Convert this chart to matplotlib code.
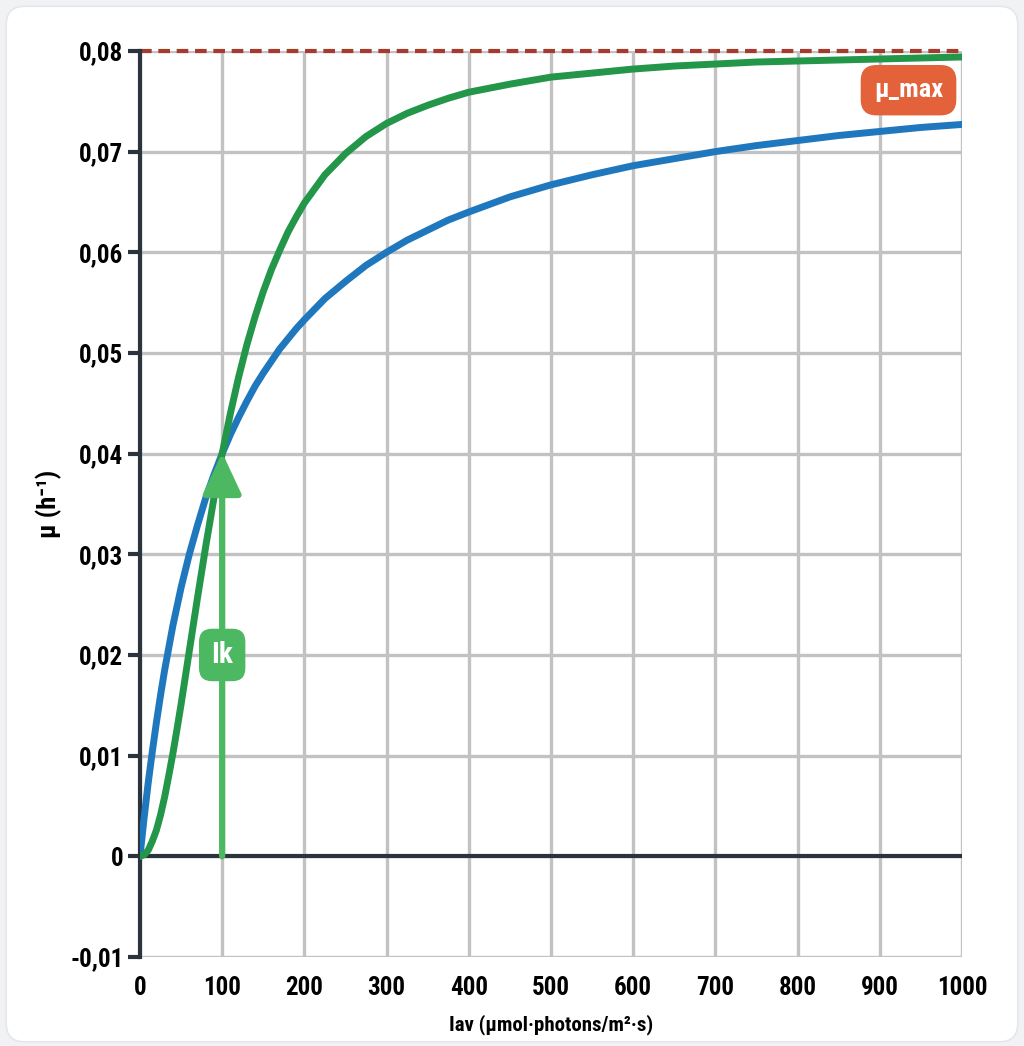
import matplotlib
matplotlib.use("Agg")
import matplotlib.pyplot as plt
from matplotlib.patches import FancyBboxPatch
from matplotlib.ticker import FuncFormatter

# values
light_x = [0, 5, 10, 15, 20, 25, 30, 35, 40, 45, 50, 60, 70, 80, 90, 100,
           110, 120, 130, 140, 150, 160, 170, 180, 190, 200, 225, 250, 275, 300,
           325, 350, 375, 400, 450, 500, 550, 600, 650, 700, 750, 800, 850, 900,
           950, 1000]
mu_blue = [0.0, 0.0038, 0.0073, 0.0104, 0.0133, 0.0160, 0.0185, 0.0207, 0.0229,
           0.0248, 0.0267, 0.0300, 0.0329, 0.0356, 0.0379, 0.0400,
           0.0419, 0.0436, 0.0452, 0.0467, 0.0480, 0.0492, 0.0504, 0.0514, 0.0524,
           0.0533, 0.0554, 0.0571, 0.0587, 0.0600,
           0.0612, 0.0622, 0.0632, 0.0640, 0.0655, 0.0667, 0.0677, 0.0686, 0.0693,
           0.0700, 0.0706, 0.0711, 0.0716, 0.0720, 0.0724, 0.0727]
mu_green = [0.0, 0.00015, 0.0006, 0.0015, 0.0026, 0.0041, 0.0059, 0.0080, 0.0102,
            0.0126, 0.0151, 0.0204, 0.0257, 0.0308, 0.0356, 0.0400,
            0.0440, 0.0476, 0.0508, 0.0536, 0.0561, 0.0583, 0.0602, 0.0620, 0.0635,
            0.0649, 0.0677, 0.0698, 0.0715, 0.0728,
            0.0738, 0.0746, 0.0753, 0.0759, 0.0767, 0.0774, 0.0778, 0.0782, 0.0785,
            0.0787, 0.0789, 0.0790, 0.0791, 0.0792, 0.0793, 0.0794]
mu_max = 0.08
ik = 100
x_ticks = list(range(0, 1001, 100))
y_ticks = [-0.01, 0.0, 0.01, 0.02, 0.03, 0.04, 0.05, 0.06, 0.07, 0.08]

FONT = ["Roboto Condensed", "Liberation Sans Narrow", "Liberation Sans", "DejaVu Sans"]
plt.rcParams["font.family"] = FONT

fig = plt.figure(figsize=(10.24, 10.46), dpi=100)
fig.patch.set_facecolor("#f1f2f4")
card = FancyBboxPatch((0.006, 0.004), 0.988, 0.99, boxstyle="round,pad=0,rounding_size=0.018",
                      transform=fig.transFigure, facecolor="white", edgecolor="#e6e7ea",
                      linewidth=1.2, zorder=-10)
fig.patches.append(card)

ax = fig.add_axes([0.1367, 0.0851, 0.8027, 0.8662])
ax.set_facecolor("none")
ax.set_xlim(0, 1000)
ax.set_ylim(-0.01, 0.08)

ax.set_xticks(x_ticks)
ax.set_yticks(y_ticks)
ax.grid(True, color="#c2c2c2", linewidth=2.4, zorder=1)
ax.set_axisbelow(True)


def fmt_y(v, pos):
    if abs(v) < 1e-9:
        return "0"
    return f"{v:.2f}".replace(".", ",")


ax.yaxis.set_major_formatter(FuncFormatter(fmt_y))
ax.tick_params(axis="y", length=9, width=3, color="#2b333d", pad=3,
               labelsize=18)
ax.tick_params(axis="x", length=0, pad=14, labelsize=18)
for lab in ax.get_xticklabels() + ax.get_yticklabels():
    lab.set_fontweight("bold")

for side in ["top", "right", "bottom"]:
    ax.spines[side].set_visible(False)
ax.spines["left"].set_color("#2b333d")
ax.spines["left"].set_linewidth(3.0)

ax.axhline(0, color="#2b333d", linewidth=3.0, zorder=2)
ax.axhline(mu_max, color="#a63a2c", linewidth=3.0, linestyle=(0, (2.8, 1.6)),
           zorder=2, clip_on=False)

ax.plot(light_x, mu_blue, color="#1f78bd", linewidth=5.0, solid_capstyle="round",
        solid_joinstyle="round", zorder=4)
ax.plot(light_x, mu_green, color="#23964a", linewidth=5.0, solid_capstyle="round",
        solid_joinstyle="round", zorder=4)

ax.annotate("", xy=(ik, 0.0401), xytext=(ik, 0.0),
            arrowprops=dict(arrowstyle="-|>,head_length=0.9,head_width=0.42",
                            mutation_scale=28, color="#4cb862", lw=4.5,
                            shrinkA=0, shrinkB=0),
            zorder=5)

ax.text(ik, 0.02, "Ik", color="white", fontsize=21, fontweight="bold",
        ha="center", va="center", zorder=6,
        bbox=dict(boxstyle="round,pad=0.42,rounding_size=0.45", facecolor="#4cb862",
                  edgecolor="none"))
ax.text(935, 0.0761, "μ_max", color="white", fontsize=19, fontweight="bold",
        ha="center", va="center", zorder=6,
        bbox=dict(boxstyle="round,pad=0.5,rounding_size=0.6", facecolor="#e3623a",
                  edgecolor="none"))

ax.set_xlabel("Iav (μmol·photons/m²·s)", fontsize=15, fontweight="bold", labelpad=10)
ax.set_ylabel("μ (h⁻¹)", fontsize=19, fontweight="bold", labelpad=6)

fig.savefig("out.png", dpi=100, facecolor=fig.get_facecolor())
